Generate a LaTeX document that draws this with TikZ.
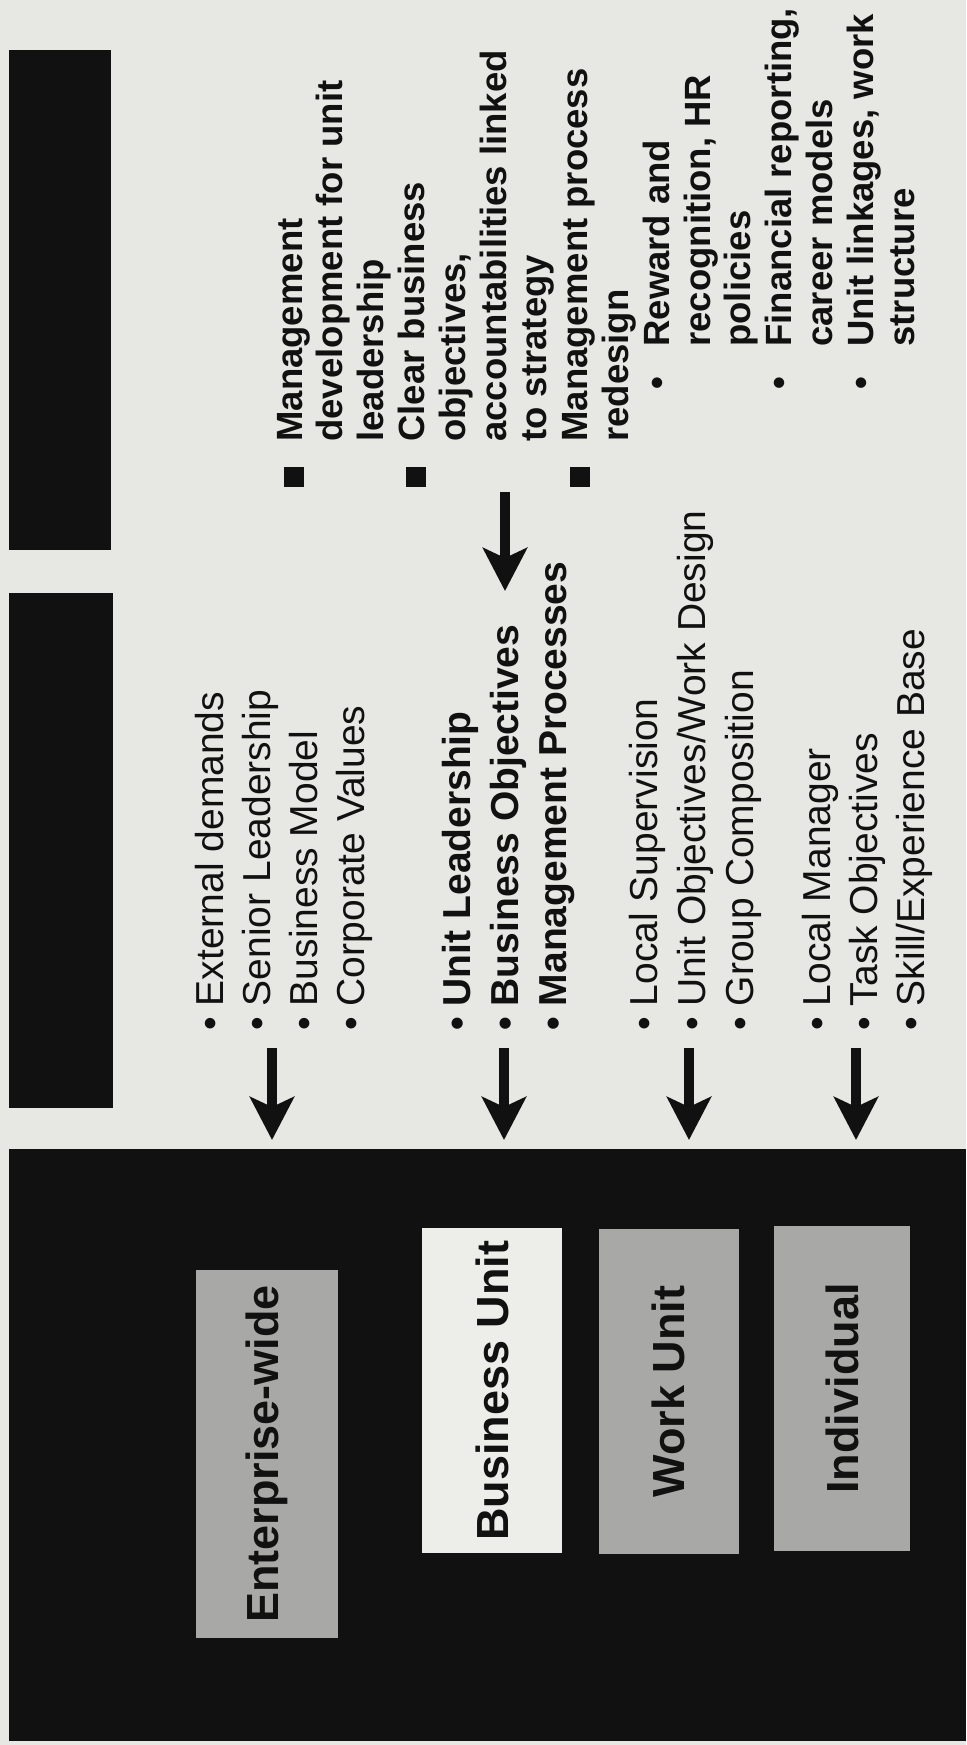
\documentclass[tikz,border=0pt]{standalone}
\usepackage{fontspec}
\setmainfont{Liberation Sans}
\usetikzlibrary{arrows.meta, positioning, calc}
\definecolor{cPaper}{RGB}{231,231,227}
\definecolor{cInk}{RGB}{17,17,17}
\definecolor{cGrey}{RGB}{168,168,166}
\definecolor{cPale}{RGB}{237,237,234}
\newcommand{\sqbul}{\makebox[22.5pt][l]{\rule[-1pt]{10pt}{10pt}}}
\newcommand{\dotbul}{\hspace*{48.8pt}\makebox[21.2pt][l]{\textbullet}}
\newcommand{\hangone}{\hspace*{22.5pt}}
\newcommand{\hangtwo}{\hspace*{70pt}}
\tikzset{
	blackbar/.style ={rectangle, fill=cInk, inner sep=0pt, outer sep=0pt},
	levelbox/.style ={rectangle, rotate=90, fill=cGrey, inner sep=0pt, minimum width=162.5pt, minimum height=70pt, text=cInk, font=\fontsize{22.5pt}{27pt}\selectfont\bfseries},
	sideline/.style ={rotate=90, anchor=base west, inner sep=0pt, text=cInk, font=\fontsize{19.5pt}{23.5pt}\selectfont},
	sidebold/.style ={sideline, font=\fontsize{19.5pt}{23.5pt}\selectfont\bfseries},
	leverline/.style={rotate=90, anchor=base west, inner sep=0pt, text=cInk, font=\fontsize{18.25pt}{20.4pt}\selectfont\bfseries},
	downarrow/.style={-{Stealth[length=21.5pt, width=22pt, inset=5pt]}, line width=5pt, draw=cInk, fill=cInk},
}
\begin{document}
\begin{tikzpicture}[x=0.5pt, y=-0.5pt]
	\path[use as bounding box, fill=cPaper] (0,0) rectangle (966,1745);
	% black bars and the level panel
	\node[blackbar, minimum width=51pt, minimum height=250pt] (bartop) at (60,300) {};
	\node[blackbar, minimum width=52pt, minimum height=257.5pt] (barmid) at (61,850.5) {};
	\node[blackbar, minimum width=478.5pt, minimum height=296pt] (panel) at (487.5,1445) {};
	\node[levelbox, minimum width=184pt, minimum height=71pt] (enterprise) at (267,1454) {Enterprise-wide};
	\node[levelbox, fill=cPale] (business) at (492,1390.5) {Business Unit};
	\node[levelbox] (workunit) at (668.5,1391.5) {Work Unit};
	\node[levelbox, minimum height=68pt] (individual) at (842,1388.5) {Individual};
	% drivers per level
	\foreach \b/\t [count=\i] in {223/External demands, 270/Senior Leadership, 317/Business Model, 364/Corporate Values}
		\node[sideline] (ent-\i) at (\b,1031) {\textbullet\ \t};
	\foreach \b/\t [count=\i] in {470/Unit Leadership, 518/Business Objectives, 566/Management Processes}
		\node[sidebold] (bus-\i) at (\b,1031) {\textbullet\ \t};
	\foreach \b/\t [count=\i] in {657/Local Supervision, 705/{Unit Objectives/Work Design}, 753/Group Composition}
		\node[sideline] (wrk-\i) at (\b,1031) {\textbullet\ \t};
	\foreach \b/\t [count=\i] in {830/Local Manager, 877/Task Objectives, 924/{Skill/Experience Base}}
		\node[sideline] (ind-\i) at (\b,1031) {\textbullet\ \t};
	% levers
	\foreach \t [count=\k from 0] in {{\sqbul Management}, {\hangone development for unit}, {\hangone leadership},
		{\sqbul Clear business}, {\hangone objectives,}, {\hangone accountabilities linked}, {\hangone to strategy},
		{\sqbul Management process}, {\hangone redesign}, {\dotbul Reward and}, {\hangtwo recognition, HR},
		{\hangtwo policies}, {\dotbul Financial reporting,}, {\hangtwo career models}, {\dotbul Unit linkages, work},
		{\hangtwo structure}}
		\node[leverline] (lever-\k) at ({302+40.8*\k},487) {\t};
	% arrows
	\foreach \x [count=\i] in {272,504,689,856} {
		\coordinate (tail-\i) at (\x,1048);
		\draw[downarrow, shorten >=4.5pt] (tail-\i) -- (tail-\i |- panel.north);
	}
	\coordinate (ptr) at (505,492);
	\coordinate (ptrend) at (505,591);
	\draw[downarrow] (ptr) -- (ptrend);
\end{tikzpicture}
\end{document}
